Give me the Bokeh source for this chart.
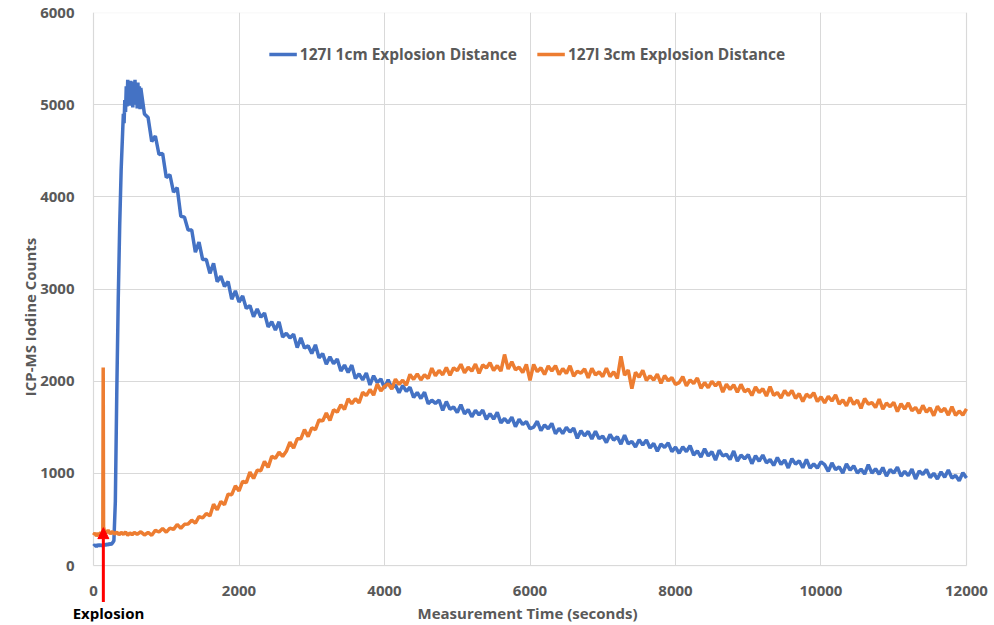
from bokeh.plotting import figure
from bokeh.models import (Range1d, FixedTicker, Legend, LegendItem, Arrow, NormalHead, Label,
                          BoxAnnotation)
from bokeh.embed import file_html
from bokeh.resources import INLINE

# ---------------- data ----------------
x_ticks = [0, 2000, 4000, 6000, 8000, 10000, 12000]
y_ticks = [0, 1000, 2000, 3000, 4000, 5000, 6000]

series_names = ["127I 1cm Explosion Distance", "127I 3cm Explosion Distance"]

# 1 cm series, first 640 s (seconds / counts)
blue_early_time = [0, 20, 40, 60, 80, 100, 120, 140, 160, 180, 200, 220, 240, 260, 280,
                   300, 320, 340, 360, 380, 400, 410, 420, 430, 440, 450, 460, 470, 480, 490,
                   500, 510, 520, 530, 540, 550, 560, 570, 580, 590, 600, 610, 620, 630, 640]
blue_early_counts = [210, 225, 205, 230, 215, 228, 212, 232, 218, 236, 222, 240, 228, 245, 270,
                     700, 1900, 2900, 3700, 4300, 4700, 4900, 4800, 5050, 4920, 5200, 4980, 5270, 5000, 5240,
                     4990, 5260, 5020, 5230, 4970, 5250, 5010, 5270, 5000, 5220, 4960, 5240, 4990, 5200, 4950]

# 3 cm series, first 600 s (spike at the explosion)
orange_early_time = [0, 20, 40, 60, 80, 100, 120, 128, 133, 138, 150, 170, 200, 230, 260, 290,
                     320, 350, 380, 410, 440, 470, 500, 530, 560, 600]
orange_early_counts = [330, 355, 320, 350, 335, 360, 340, 380, 2150, 420, 375, 350, 385, 345, 370, 340,
                       365, 335, 360, 340, 365, 330, 355, 335, 360, 340]

# both series from 650 s to 12000 s, one reading every 50 s
late_time = list(range(650, 12001, 50))

blue_late_counts = [
    5180, 4900, 4860, 4600, 4660, 4460, 4470, 4210, 4240, 4050, 4100, 3790, 3780, 3640,
    3640, 3400, 3510, 3320, 3320, 3170, 3280, 3080, 3140, 3030, 3080, 2890, 2980, 2860,
    2925, 2790, 2820, 2700, 2785, 2695, 2740, 2590, 2645, 2555, 2645, 2480, 2520, 2470,
    2510, 2365, 2470, 2360, 2385, 2300, 2395, 2255, 2300, 2185, 2265, 2190, 2240, 2110,
    2175, 2095, 2175, 2030, 2080, 2015, 2090, 1960, 2060, 1985, 2025, 1925,
    2016, 1928, 1959, 1875, 1955, 1890, 1935, 1825, 1879, 1813, 1881, 1755, 1795, 1760,
    1795, 1685, 1779, 1697, 1721, 1660, 1746, 1647, 1693, 1614, 1685, 1636, 1687, 1588,
    1649, 1590, 1662, 1549, 1596, 1548, 1610, 1507, 1589, 1531, 1563, 1485,
    1503, 1566, 1464, 1527, 1485, 1543, 1431, 1489, 1432, 1500, 1449, 1492, 1381, 1464,
    1408, 1456, 1375, 1458, 1377, 1405, 1334, 1422, 1361, 1399, 1318, 1416, 1320, 1348,
    1287, 1365, 1309, 1363, 1277, 1326, 1240, 1319, 1283, 1332, 1236, 1285,
    1219, 1288, 1237, 1301, 1200, 1244, 1178, 1267, 1191, 1235, 1145, 1251, 1191, 1207,
    1152, 1243, 1133, 1199, 1159, 1205, 1106, 1192, 1133, 1199, 1115, 1151, 1087, 1173,
    1099, 1145, 1060, 1161, 1101, 1137, 1062, 1153, 1058, 1104, 1059, 1125,
    1096, 1023, 1114, 1041, 1072, 1004, 1105, 1037, 1083, 1005, 1047, 994, 1096, 1003,
    1050, 992, 1064, 971, 1043, 1005, 1067, 970, 1022, 975, 1047, 940, 1027, 990,
    1042, 955, 1002, 940, 1017, 960, 1037, 950, 977, 920, 1007, 950,
]

orange_late_counts = [
    367, 333, 360, 329, 383, 365, 402, 363, 407, 393, 447, 405, 448, 452,
    493, 460, 532, 518, 565, 540, 665, 605, 695, 660, 775, 770, 865, 810,
    915, 900, 1015, 945, 1035, 1030, 1130, 1065, 1185, 1165, 1230, 1185,
    1240, 1340, 1275, 1375, 1375, 1475, 1400, 1495, 1475, 1580, 1570, 1655, 1575, 1690,
    1665, 1745, 1695, 1810, 1755, 1810, 1765, 1880, 1845, 1910, 1850, 1970, 1895, 1945,
    1972, 1915, 2022, 1965, 2011, 1957, 2074, 2020, 2080, 2015, 2070, 2030, 2142, 2060,
    2118, 2070, 2150, 2065, 2145, 2115, 2184, 2092, 2151, 2110, 2187, 2085, 2178, 2145,
    2201, 2117, 2169, 2110, 2290, 2132, 2211, 2125, 2153, 2095, 2182, 2010,
    2182, 2104, 2146, 2073, 2165, 2112, 2169, 2071, 2138, 2085, 2168, 2056, 2109, 2087,
    2135, 2038, 2141, 2069, 2102, 2050, 2142, 2050, 2102, 2030, 2270, 2065, 2122, 1920,
    2097, 2045, 2119, 2009, 2058, 2013, 2077, 1977, 2061, 2006, 2040, 1965,
    1985, 2050, 1950, 2015, 1975, 2035, 1925, 1985, 1930, 2000, 1949, 1994, 1883, 1968,
    1912, 1962, 1881, 1966, 1885, 1915, 1846, 1937, 1878, 1919, 1840, 1941, 1847, 1878,
    1819, 1900, 1845, 1900, 1815, 1865, 1780, 1860, 1825, 1875, 1780, 1830,
    1765, 1836, 1786, 1852, 1752, 1798, 1733, 1824, 1749, 1795, 1706, 1812, 1753, 1769,
    1715, 1806, 1697, 1763, 1724, 1770, 1671, 1757, 1698, 1764, 1680, 1716, 1652, 1738,
    1664, 1710, 1627, 1728, 1670, 1706, 1633, 1724, 1631, 1677, 1634, 1700,
]

explosion_time = 135
explosion_label = "Explosion"

blue_time = blue_early_time + late_time
blue_counts = blue_early_counts + blue_late_counts
orange_time = orange_early_time + late_time
orange_counts = orange_early_counts + orange_late_counts

# ---------------- figure ----------------
FONT = "Open Sans"
GREY = "#595959"
GRID = "#d9d9d9"

# The frame reaches into the margins so that the explosion marker and its
# caption can sit outside the 0..12000 / 0..6000 plot area.
p = figure(width=994, height=625, output_backend="svg", toolbar_location=None,
           x_range=Range1d(-454, 12385), y_range=Range1d(-606, 6000),
           min_border_left=60, min_border_right=0, min_border_top=12, min_border_bottom=0,
           background_fill_color="white", border_fill_color="white")

p.outline_line_color = None

for ax in (p.xaxis[0], p.yaxis[0]):
    ax.axis_line_color = None
    ax.major_tick_line_color = None
    ax.minor_tick_line_color = None
    ax.major_label_text_font = FONT
    ax.major_label_text_font_style = "bold"
    ax.major_label_text_font_size = "15px"
    ax.major_label_text_color = GREY
    ax.axis_label_text_font = FONT
    ax.axis_label_text_font_style = "bold"
    ax.axis_label_text_font_size = "15px"
    ax.axis_label_text_color = GREY

p.xaxis.ticker = FixedTicker(ticks=x_ticks)
p.yaxis.ticker = FixedTicker(ticks=y_ticks)
p.xaxis.axis_label = "Measurement Time (seconds)"
p.yaxis.axis_label = "ICP-MS Iodine Counts"
p.xaxis.major_label_standoff = -42
p.xaxis.axis_label_standoff = 4
p.yaxis.major_label_standoff = -20
p.yaxis.axis_label_standoff = -3

p.xgrid.grid_line_color = GRID
p.ygrid.grid_line_color = GRID
p.xgrid.cross_bounds = (-1, 6000)
p.ygrid.cross_bounds = (-1, 12000)

# border of the plotting area (0..12000 x 0..6000)
p.add_layout(BoxAnnotation(left=x_ticks[0], right=x_ticks[-1], bottom=y_ticks[0], top=y_ticks[-1],
                           fill_color=None, fill_alpha=0, line_color=GRID, line_width=1.5,
                           level="underlay"))

r_blue = p.line(blue_time, blue_counts, line_color="#4472C4", line_width=3.5)
r_orange = p.line(orange_time, orange_counts, line_color="#ED7D31", line_width=3.5)

legend = Legend(items=[LegendItem(label=series_names[0], renderers=[r_blue]),
                       LegendItem(label=series_names[1], renderers=[r_orange])],
                orientation="horizontal", location="top_center",
                background_fill_alpha=0, border_line_alpha=0,
                label_text_font=FONT, label_text_font_style="bold",
                label_text_font_size="15.5px", label_text_color=GREY,
                glyph_width=28, glyph_height=20, label_standoff=3, spacing=20,
                padding=5, margin=26)
p.add_layout(legend)

arrow = Arrow(end=NormalHead(size=11, fill_color="red", line_color="red"),
              x_start=explosion_time, y_start=-395, x_end=explosion_time, y_end=412,
              line_color="red", line_width=3)
p.add_layout(arrow)

lbl = Label(x=206, y=-515, text=explosion_label, text_align="center", text_baseline="middle",
            text_font=FONT, text_font_style="bold", text_font_size="15px", text_color="black")
p.add_layout(lbl)

open("out.html", "w").write(file_html(p, INLINE))
